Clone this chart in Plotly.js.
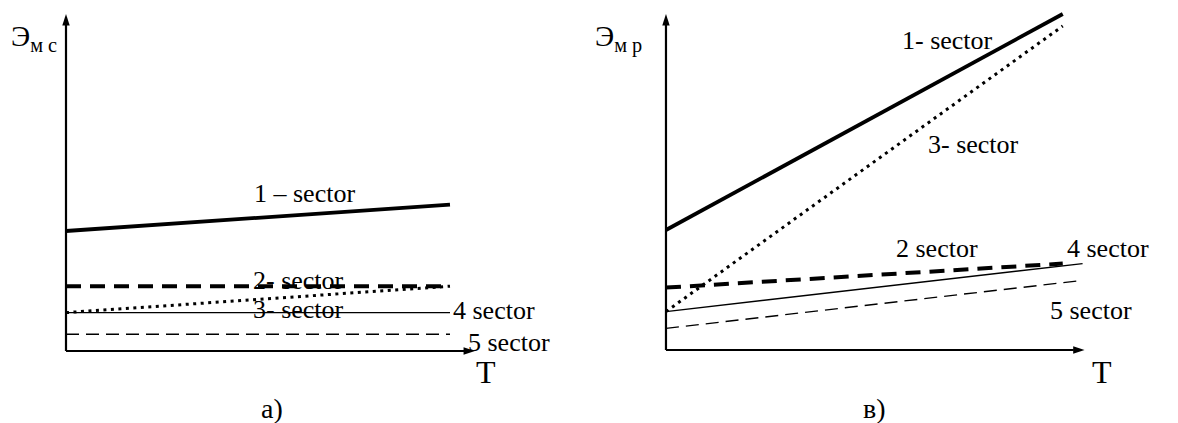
<!DOCTYPE html>
<html>
<head>
<meta charset="utf-8">
<script src="https://cdn.plot.ly/plotly-3.0.1.min.js"></script>
<style>html,body{margin:0;padding:0;background:#fff;}#chart{width:1178px;height:423px;}</style>
</head>
<body>
<div id="chart"></div>
<script>
// ---- Data ----
// Panel a): Эмс versus T
const T_a = [0, 10];
const a_sector1 = [5.0, 6.1];
const a_sector2 = [2.7, 2.7];
const a_sector3 = [1.6, 2.7];
const a_sector4 = [1.6, 1.6];
const a_sector5 = [0.7, 0.7];

// Panel в): Эмр versus T
const T_b = [0, 10];
const T_b_long = [0, 10.5];
const b_sector1 = [5.0, 14.0];
const b_sector2 = [2.6, 3.6];
const b_sector3 = [1.6, 13.5];
const b_sector4 = [1.6, 3.6];
const b_sector5 = [0.9, 2.9];

// axis arrow extents (data units)
const axisEndA = {T: 10.65, E: 14.04};
const axisEndB = {T: 10.55, E: 14.0};

const labelsA = ['1 – sector', '2- sector', '3- sector', '4 sector', '5 sector'];
const labelsB = ['1- sector', '2 sector', '3- sector', '4 sector', '5 sector'];

// ---- Styles ----
const FONT = '"Liberation Serif", "Times New Roman", Times, serif';
const thickSolid = {color: '#000', width: 3.8};
const thickDash = {color: '#000', width: 4, dash: '15px,9px'};
const dotted = {color: '#000', width: 3, dash: '3px,4.5px'};
const thinSolid = {color: '#000', width: 1.4};
const thinDash = {color: '#000', width: 1.4, dash: '13px,7px'};

function tr(x, y, line, xa, ya) {
  return {x: x, y: y, type: 'scatter', mode: 'lines', line: line,
          xaxis: xa, yaxis: ya, hoverinfo: 'skip', showlegend: false};
}
function axisTr(x, y, xa, ya) {
  return {x: x, y: y, type: 'scatter', mode: 'lines+markers',
          line: {color: '#000', width: 2.2},
          marker: {symbol: 'arrow', angleref: 'previous', size: 12, color: '#000', line: {width: 0}},
          xaxis: xa, yaxis: ya, hoverinfo: 'skip', showlegend: false, cliponaxis: false};
}

const data = [
  axisTr([0, axisEndA.T], [0, 0], 'x', 'y'),
  axisTr([0, 0], [0, axisEndA.E], 'x', 'y'),
  axisTr([0, axisEndB.T], [0, 0], 'x2', 'y2'),
  axisTr([0, 0], [0, axisEndB.E], 'x2', 'y2'),
  tr(T_a, a_sector1, thickSolid, 'x', 'y'),
  tr(T_a, a_sector2, thickDash, 'x', 'y'),
  tr(T_a, a_sector3, dotted, 'x', 'y'),
  tr(T_a, a_sector4, thinSolid, 'x', 'y'),
  tr(T_a, a_sector5, thinDash, 'x', 'y'),
  tr(T_b, b_sector1, thickSolid, 'x2', 'y2'),
  tr(T_b, b_sector2, thickDash, 'x2', 'y2'),
  tr(T_b, b_sector3, dotted, 'x2', 'y2'),
  tr(T_b_long, b_sector4, thinSolid, 'x2', 'y2'),
  tr(T_b_long, b_sector5, thinDash, 'x2', 'y2')
];

const W = 1178, H = 423;
const px = v => v / W;
const py = v => 1 - v / H;

function label(text, x, y, size, xanchor) {
  return {xref: 'paper', yref: 'paper', x: px(x), y: py(y), text: text, showarrow: false,
          xanchor: xanchor || 'center', yanchor: 'middle', borderpad: 0,
          font: {family: FONT, size: size, color: '#000'}};
}

const annotations = [
  // panel a labels
  label(labelsA[0], 304, 193, 26),
  label(labelsA[1], 298, 280, 26),
  label(labelsA[2], 298, 309, 26),
  label(labelsA[3], 494, 310, 26),
  label(labelsA[4], 509, 342, 26),
  label('T', 486, 372, 32),
  label('a)', 272, 408, 28),
  label('Э<sub>м с</sub>', 10, 38, 29, 'left'),
  // panel в labels
  label(labelsB[0], 947, 40, 26),
  label(labelsB[2], 973, 145, 26),
  label(labelsB[1], 937, 249, 26),
  label(labelsB[3], 1108, 249, 26),
  label(labelsB[4], 1091, 310, 26),
  label('T', 1102, 372, 32),
  label('в)', 874, 408, 28),
  label('Э<sub>м р</sub>', 594, 38, 29, 'left')
];

const hidden = {visible: false, fixedrange: true, showgrid: false, zeroline: false};
const layout = {
  width: W, height: H,
  margin: {l: 0, r: 0, t: 0, b: 0},
  paper_bgcolor: '#fff', plot_bgcolor: 'rgba(0,0,0,0)',
  showlegend: false,
  xaxis: Object.assign({}, hidden, {range: [-1, 12], domain: [27.6 / W, 526.8 / W], anchor: 'y'}),
  yaxis: Object.assign({}, hidden, {range: [-1, 14.5], domain: [(H - 375) / H, (H - 3) / H], anchor: 'x'}),
  xaxis2: Object.assign({}, hidden, {range: [-1, 12], domain: [626.3 / W, 1142.1 / W], anchor: 'y2'}),
  yaxis2: Object.assign({}, hidden, {range: [-1, 14.5], domain: [(H - 374) / H, (H - 2) / H], anchor: 'x2'}),
  annotations: annotations,
  font: {family: FONT, color: '#000'}
};

Plotly.newPlot('chart', data, layout, {staticPlot: true, displayModeBar: false});
</script>
</body>
</html>
